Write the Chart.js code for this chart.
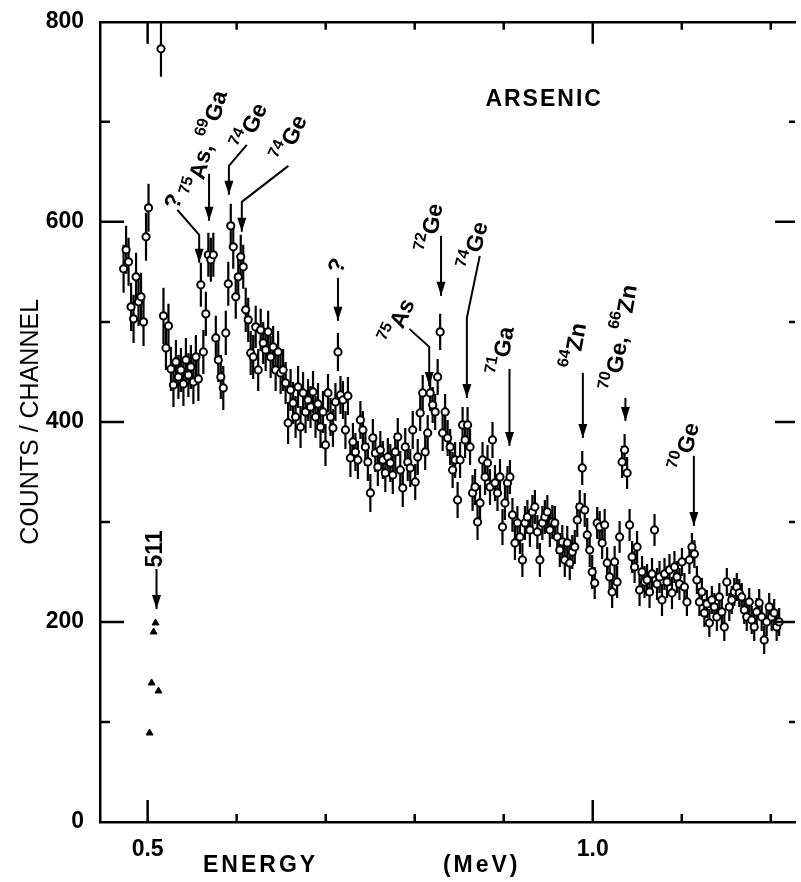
<!DOCTYPE html>
<html>
<head>
<meta charset="utf-8">
<title>Arsenic spectrum</title>
<script src="https://cdn.jsdelivr.net/npm/chart.js@4.4.1/dist/chart.umd.min.js"></script>
<style>
  html, body { margin: 0; padding: 0; background: #fff; }
  #wrap { width: 801px; height: 882px; }
</style>
</head>
<body>
<div id="wrap"><canvas id="spectrum" width="801" height="882"></canvas></div>
<script>
// channel energies (MeV); the 511 keV region is left out of this series
const energy = [
  0.4730, 0.4758, 0.4786, 0.4814, 0.4842, 0.4870, 0.4898, 0.4926, 0.4954, 0.4982,
  0.5010, 0.5150, 0.5178, 0.5206, 0.5234, 0.5262,
  0.5290, 0.5318, 0.5346, 0.5374, 0.5402, 0.5430, 0.5458, 0.5486, 0.5514, 0.5542,
  0.5570, 0.5598, 0.5626, 0.5654, 0.5682, 0.5710, 0.5738, 0.5766, 0.5794, 0.5822,
  0.5850, 0.5878, 0.5906, 0.5934, 0.5962, 0.5990, 0.6018, 0.6046, 0.6074, 0.6102,
  0.6130, 0.6158, 0.6186, 0.6214, 0.6242, 0.6270, 0.6298, 0.6326, 0.6354, 0.6382,
  0.6410, 0.6438, 0.6466, 0.6494, 0.6522, 0.6550, 0.6578, 0.6606, 0.6634, 0.6662,
  0.6690, 0.6718, 0.6746, 0.6774, 0.6802, 0.6830, 0.6858, 0.6886, 0.6914, 0.6942,
  0.6970, 0.6998, 0.7026, 0.7054, 0.7082, 0.7110, 0.7138, 0.7166, 0.7194, 0.7222,
  0.7250, 0.7278, 0.7306, 0.7334, 0.7362, 0.7390, 0.7418, 0.7446, 0.7474, 0.7502,
  0.7530, 0.7558, 0.7586, 0.7614, 0.7642, 0.7670, 0.7698, 0.7726, 0.7754, 0.7782,
  0.7810, 0.7838, 0.7866, 0.7894, 0.7922, 0.7950, 0.7978, 0.8006, 0.8034, 0.8062,
  0.8090, 0.8118, 0.8146, 0.8174, 0.8202, 0.8230, 0.8258, 0.8286, 0.8314, 0.8342,
  0.8370, 0.8398, 0.8426, 0.8454, 0.8482, 0.8510, 0.8538, 0.8566, 0.8594, 0.8622,
  0.8650, 0.8678, 0.8706, 0.8734, 0.8762, 0.8790, 0.8818, 0.8846, 0.8874, 0.8902,
  0.8930, 0.8958, 0.8986, 0.9014, 0.9042, 0.9070, 0.9098, 0.9126, 0.9154, 0.9182,
  0.9210, 0.9238, 0.9266, 0.9294, 0.9322, 0.9350, 0.9378, 0.9406, 0.9434, 0.9462,
  0.9490, 0.9518, 0.9546, 0.9574, 0.9602, 0.9630, 0.9658, 0.9686, 0.9714, 0.9742,
  0.9770, 0.9798, 0.9826, 0.9854, 0.9882, 0.9910, 0.9938, 0.9966, 0.9994, 1.0022,
  1.0050, 1.0078, 1.0106, 1.0134, 1.0162, 1.0190, 1.0218, 1.0246, 1.0274, 1.0302,
  1.0330, 1.0358, 1.0386, 1.0414, 1.0442, 1.0470, 1.0498, 1.0526, 1.0554, 1.0582,
  1.0610, 1.0638, 1.0666, 1.0694, 1.0722, 1.0750, 1.0778, 1.0806, 1.0834, 1.0862,
  1.0890, 1.0918, 1.0946, 1.0974, 1.1002, 1.1030, 1.1058, 1.1086, 1.1114, 1.1142,
  1.1170, 1.1198, 1.1226, 1.1254, 1.1282, 1.1310, 1.1338, 1.1366, 1.1394, 1.1422,
  1.1450, 1.1478, 1.1506, 1.1534, 1.1562, 1.1590, 1.1618, 1.1646, 1.1674, 1.1702,
  1.1730, 1.1758, 1.1786, 1.1814, 1.1842, 1.1870, 1.1898, 1.1926, 1.1954, 1.1982,
  1.2010, 1.2038, 1.2066, 1.2094
];

// counts per channel, same order as energy[]
const counts = [
  553, 572, 560, 515, 503, 545, 520, 525, 500, 585,
  614, 773, 506, 474, 496, 453,
  437, 460, 445, 452, 438, 462, 447, 455, 440, 465,
  443, 537, 470, 508, 567, 562, 567, 484, 462, 445,
  434, 489, 538, 596, 575, 525, 545, 565, 555, 512,
  502, 469, 465, 495, 452, 492, 479, 472, 490, 465,
  475, 452, 470, 449, 452, 439, 399, 432, 419, 405,
  435, 395, 429, 410, 422, 415, 430, 405, 418, 395,
  410, 377, 429, 405, 394, 420, 470, 427, 422, 392,
  426, 364, 380, 370, 362, 402, 392, 375, 360, 329,
  384, 369, 355, 372, 362, 349, 365, 359, 347, 370,
  385, 352, 334, 375, 360, 354, 392, 340, 365, 409,
  429, 370, 389, 429, 417, 410, 445, 490, 389, 410,
  384, 375, 352, 362, 322, 362, 397, 382, 397, 375,
  329, 335, 300, 319, 362, 345, 359, 335, 382, 339,
  329, 345, 295, 319, 339, 345, 307, 279, 299, 285,
  262, 299, 305, 292, 310, 315, 290, 262, 299, 305,
  310, 292, 300, 299, 285, 272, 280, 262, 279, 259,
  270, 275, 302, 315, 354, 312, 287, 272, 250, 239,
  299, 295, 279, 297, 259, 245, 230, 260, 240, 285,
  360, 372, 349, 297, 265, 255, 275, 232, 250, 240,
  242, 230, 248, 292, 238, 245, 222, 248, 240, 252,
  229, 255, 245, 238, 260, 235, 220, 262, 275, 268,
  242, 220, 230, 209, 218, 199, 222, 215, 205, 225,
  210, 195, 240, 215, 222, 230, 235, 229, 225, 212,
  205, 220, 202, 195, 210, 219, 205, 182, 200, 215,
  205, 209, 195, 200
];

// error bar half lengths (counts), one value per energy band; a band ends at errBandEnd[k]
const errBandEnd  = [0.505, 0.520, 0.620, 0.700, 0.800, 0.900, 1.000, 1.100, 1.300];
const errBandHalf = [24,    28,    22,    21,    19,    18,    17,    16,    14];

// annihilation (511 keV) points, drawn as triangles
const annEnergy = [0.5022, 0.5045, 0.5122, 0.5067, 0.5089];
const annCounts = [89, 139, 131, 190, 199];

// axis ticks
const xTicks  = [0.5, 0.6, 0.7, 0.8, 0.9, 1.0, 1.1, 1.2];
const xLabels = ['0.5', '', '', '', '', '1.0', '', ''];
const yTicks  = [0, 100, 200, 300, 400, 500, 600, 700, 800];
const yLabels = ['0', '', '200', '', '400', '', '600', '', '800'];

// line identifications: label text ('^' marks a mass number), arrow path in data units
const annotations = [
  { text: '?',            at: [0.5301, 620], angle: -70, path: [[0.5334, 612], [0.5579, 587], [0.5579, 559]] },
  { text: '^75As, ^69Ga', at: [0.5668, 678], angle: -75, path: [[0.5690, 648], [0.5690, 601]] },
  { text: '^74Ge',        at: [0.6169, 695], angle: -65, path: [[0.6114, 677], [0.5913, 656], [0.5913, 627]] },
  { text: '^74Ge',        at: [0.6615, 683], angle: -65, path: [[0.6581, 656], [0.6058, 620], [0.6058, 590]] },
  { text: '?',            at: [0.7138, 556], angle: -70, path: [[0.7138, 544], [0.7138, 501]] },
  { text: '^75As',        at: [0.7829, 500], angle: -65, path: [[0.7940, 493], [0.8163, 475], [0.8163, 436]] },
  { text: '^72Ge',        at: [0.8196, 594], angle: -80, path: [[0.8296, 586], [0.8296, 526]] },
  { text: '^74Ge',        at: [0.8686, 576], angle: -75, path: [[0.8731, 566], [0.8586, 504], [0.8586, 424]] },
  { text: '^71Ga',        at: [0.8998, 471], angle: -80, path: [[0.9065, 453], [0.9065, 376]] },
  { text: '^64Zn',        at: [0.9811, 476], angle: -80, path: [[0.9889, 449], [0.9889, 384]] },
  { text: '^70Ge, ^66Zn', at: [1.0323, 484], angle: -80, path: [[1.0367, 424], [1.0367, 401]] },
  { text: '^70Ge',        at: [1.1058, 375], angle: -75, path: [[1.1136, 366], [1.1136, 296]] },
  { text: '511',          at: [0.5089, 273], angle: -90, path: [[0.5100, 253], [0.5100, 213]] },
  { text: 'ARSENIC',      at: [0.9454, 722], angle: 0, spacing: 2 }
];

const FONT = "'Liberation Sans', Arial, sans-serif";
const INK = '#000';

function halfError(e) {
  const k = errBandEnd.findIndex(b => e <= b);
  return errBandHalf[k < 0 ? errBandHalf.length - 1 : k];
}

// label with raised mass numbers, centred on (cx, cy)
function drawLabel(ctx, cx, cy, angle, text, spacing) {
  const tokens = text.match(/\^\d+|[^^]+/g).map(t =>
    t[0] === '^' ? { t: t.slice(1), sup: true } : { t: t, sup: false });
  ctx.save();
  ctx.translate(cx, cy);
  ctx.rotate(angle * Math.PI / 180);
  ctx.textBaseline = 'middle';
  ctx.textAlign = 'left';
  ctx.letterSpacing = (spacing || 0) + 'px';
  const fontOf = tk => tk.sup ? `bold 16px ${FONT}` : `bold 23px ${FONT}`;
  const widths = tokens.map(tk => { ctx.font = fontOf(tk); return ctx.measureText(tk.t).width; });
  let x = -widths.reduce((a, b) => a + b, 0) / 2;
  tokens.forEach((tk, i) => {
    ctx.font = fontOf(tk);
    ctx.fillText(tk.t, x, tk.sup ? -9 : 0);
    x += widths[i];
  });
  ctx.restore();
}

const errorBarPlugin = {
  id: 'errorBars',
  beforeDatasetsDraw(chart) {
    const { ctx, chartArea: a, scales: { x, y } } = chart;
    ctx.save();
    ctx.beginPath();
    ctx.rect(a.left, a.top, a.right - a.left, a.bottom - a.top);
    ctx.clip();
    ctx.strokeStyle = INK;
    ctx.lineWidth = 2.2;
    ctx.beginPath();
    energy.forEach((e, i) => {
      const px = x.getPixelForValue(e);
      const h = halfError(e);
      ctx.moveTo(px, y.getPixelForValue(counts[i] - h));
      ctx.lineTo(px, y.getPixelForValue(counts[i] + h));
    });
    ctx.stroke();
    ctx.restore();
  }
};

// inward tick marks on all four sides of the frame
const frameTicksPlugin = {
  id: 'frameTicks',
  afterDraw(chart) {
    const { ctx, chartArea: a, scales: { x, y } } = chart;
    ctx.save();
    ctx.strokeStyle = INK;
    ctx.lineWidth = 2.5;
    ctx.beginPath();
    xTicks.forEach((v, i) => {
      const px = x.getPixelForValue(v);
      const len = xLabels[i] ? 22 : 8;
      ctx.moveTo(px, a.bottom); ctx.lineTo(px, a.bottom - len);
      ctx.moveTo(px, a.top);    ctx.lineTo(px, a.top + len);
    });
    yTicks.forEach((v, i) => {
      if (v === 0 || v === 800) return;
      const py = y.getPixelForValue(v);
      const len = yLabels[i] ? 24 : 10;
      ctx.moveTo(a.left, py);  ctx.lineTo(a.left + len, py);
      ctx.moveTo(a.right, py); ctx.lineTo(a.right - len + 4, py);
    });
    ctx.stroke();
    ctx.restore();
  }
};

const annotationPlugin = {
  id: 'lineLabels',
  afterDatasetsDraw(chart) {
    const { ctx, scales: { x, y } } = chart;
    ctx.save();
    ctx.strokeStyle = INK;
    ctx.fillStyle = INK;
    ctx.lineWidth = 2;
    annotations.forEach(a => {
      if (a.path) {
        const pts = a.path.map(p => [x.getPixelForValue(p[0]), y.getPixelForValue(p[1])]);
        ctx.beginPath();
        pts.forEach((p, i) => i ? ctx.lineTo(p[0], p[1]) : ctx.moveTo(p[0], p[1]));
        ctx.stroke();
        const [tx, ty] = pts[pts.length - 1];
        const [fx, fy] = pts[pts.length - 2];
        const ang = Math.atan2(ty - fy, tx - fx);
        const L = 14, W = 4.5;
        ctx.beginPath();
        ctx.moveTo(tx, ty);
        ctx.lineTo(tx - L * Math.cos(ang) + W * Math.sin(ang), ty - L * Math.sin(ang) - W * Math.cos(ang));
        ctx.lineTo(tx - L * Math.cos(ang) - W * Math.sin(ang), ty - L * Math.sin(ang) + W * Math.cos(ang));
        ctx.closePath();
        ctx.fill();
      }
      drawLabel(ctx, x.getPixelForValue(a.at[0]), y.getPixelForValue(a.at[1]), a.angle, a.text, a.spacing);
    });

    // x axis title, two words set apart
    ctx.font = `bold 23px ${FONT}`;
    ctx.letterSpacing = '3px';
    ctx.textAlign = 'center';
    ctx.textBaseline = 'middle';
    ctx.fillText('ENERGY', x.getPixelForValue(0.6269), chart.height - 16);
    ctx.fillText('(MeV)', x.getPixelForValue(0.8753), chart.height - 16);
    ctx.restore();
  }
};

const xMin = 0.4465;
const xMax = 1.2272;
const frameBorder = { display: true, color: INK, width: 2.5 };

new Chart(document.getElementById('spectrum'), {
  type: 'scatter',
  data: {
    datasets: [
      {
        label: 'counts',
        data: energy.map((e, i) => ({ x: e, y: counts[i] })),
        pointStyle: 'circle',
        pointRadius: 3.6,
        pointBorderWidth: 2,
        pointBorderColor: INK,
        pointBackgroundColor: '#fff'
      },
      {
        label: '511 keV',
        data: annEnergy.map((e, i) => ({ x: e, y: annCounts[i] })),
        pointStyle: 'triangle',
        pointRadius: 4,
        pointBorderWidth: 1,
        pointBorderColor: INK,
        pointBackgroundColor: INK
      }
    ]
  },
  options: {
    responsive: false,
    animation: false,
    events: [],
    layout: { padding: 0 },
    plugins: { legend: { display: false }, tooltip: { enabled: false } },
    scales: {
      x: {
        type: 'linear', position: 'bottom', min: xMin, max: xMax,
        afterBuildTicks: s => { s.ticks = xTicks.map(v => ({ value: v })); },
        afterFit: s => { s.height = 60; },
        grid: { display: false },
        border: frameBorder,
        ticks: {
          callback: (v, i) => xLabels[i],
          autoSkip: false, maxRotation: 0, padding: 6,
          color: INK, font: { family: FONT, size: 23, weight: 'bold' }
        }
      },
      xTop: {
        type: 'linear', position: 'top', min: xMin, max: xMax,
        afterFit: s => { s.height = 20; },
        grid: { display: false },
        border: frameBorder,
        ticks: { display: false }
      },
      y: {
        type: 'linear', position: 'left', min: 0, max: 800,
        afterBuildTicks: s => { s.ticks = yTicks.map(v => ({ value: v })); },
        afterFit: s => { s.width = 100; },
        grid: { display: false },
        border: frameBorder,
        ticks: {
          callback: (v, i) => yLabels[i],
          autoSkip: false, padding: 8,
          color: INK, font: { family: FONT, size: 23, weight: 'bold' }
        },
        title: {
          display: true, text: 'COUNTS / CHANNEL', color: INK,
          font: { family: FONT, size: 25 }, padding: { top: 16, bottom: 0 }
        }
      }
    }
  },
  plugins: [errorBarPlugin, frameTicksPlugin, annotationPlugin]
});
</script>
</body>
</html>
